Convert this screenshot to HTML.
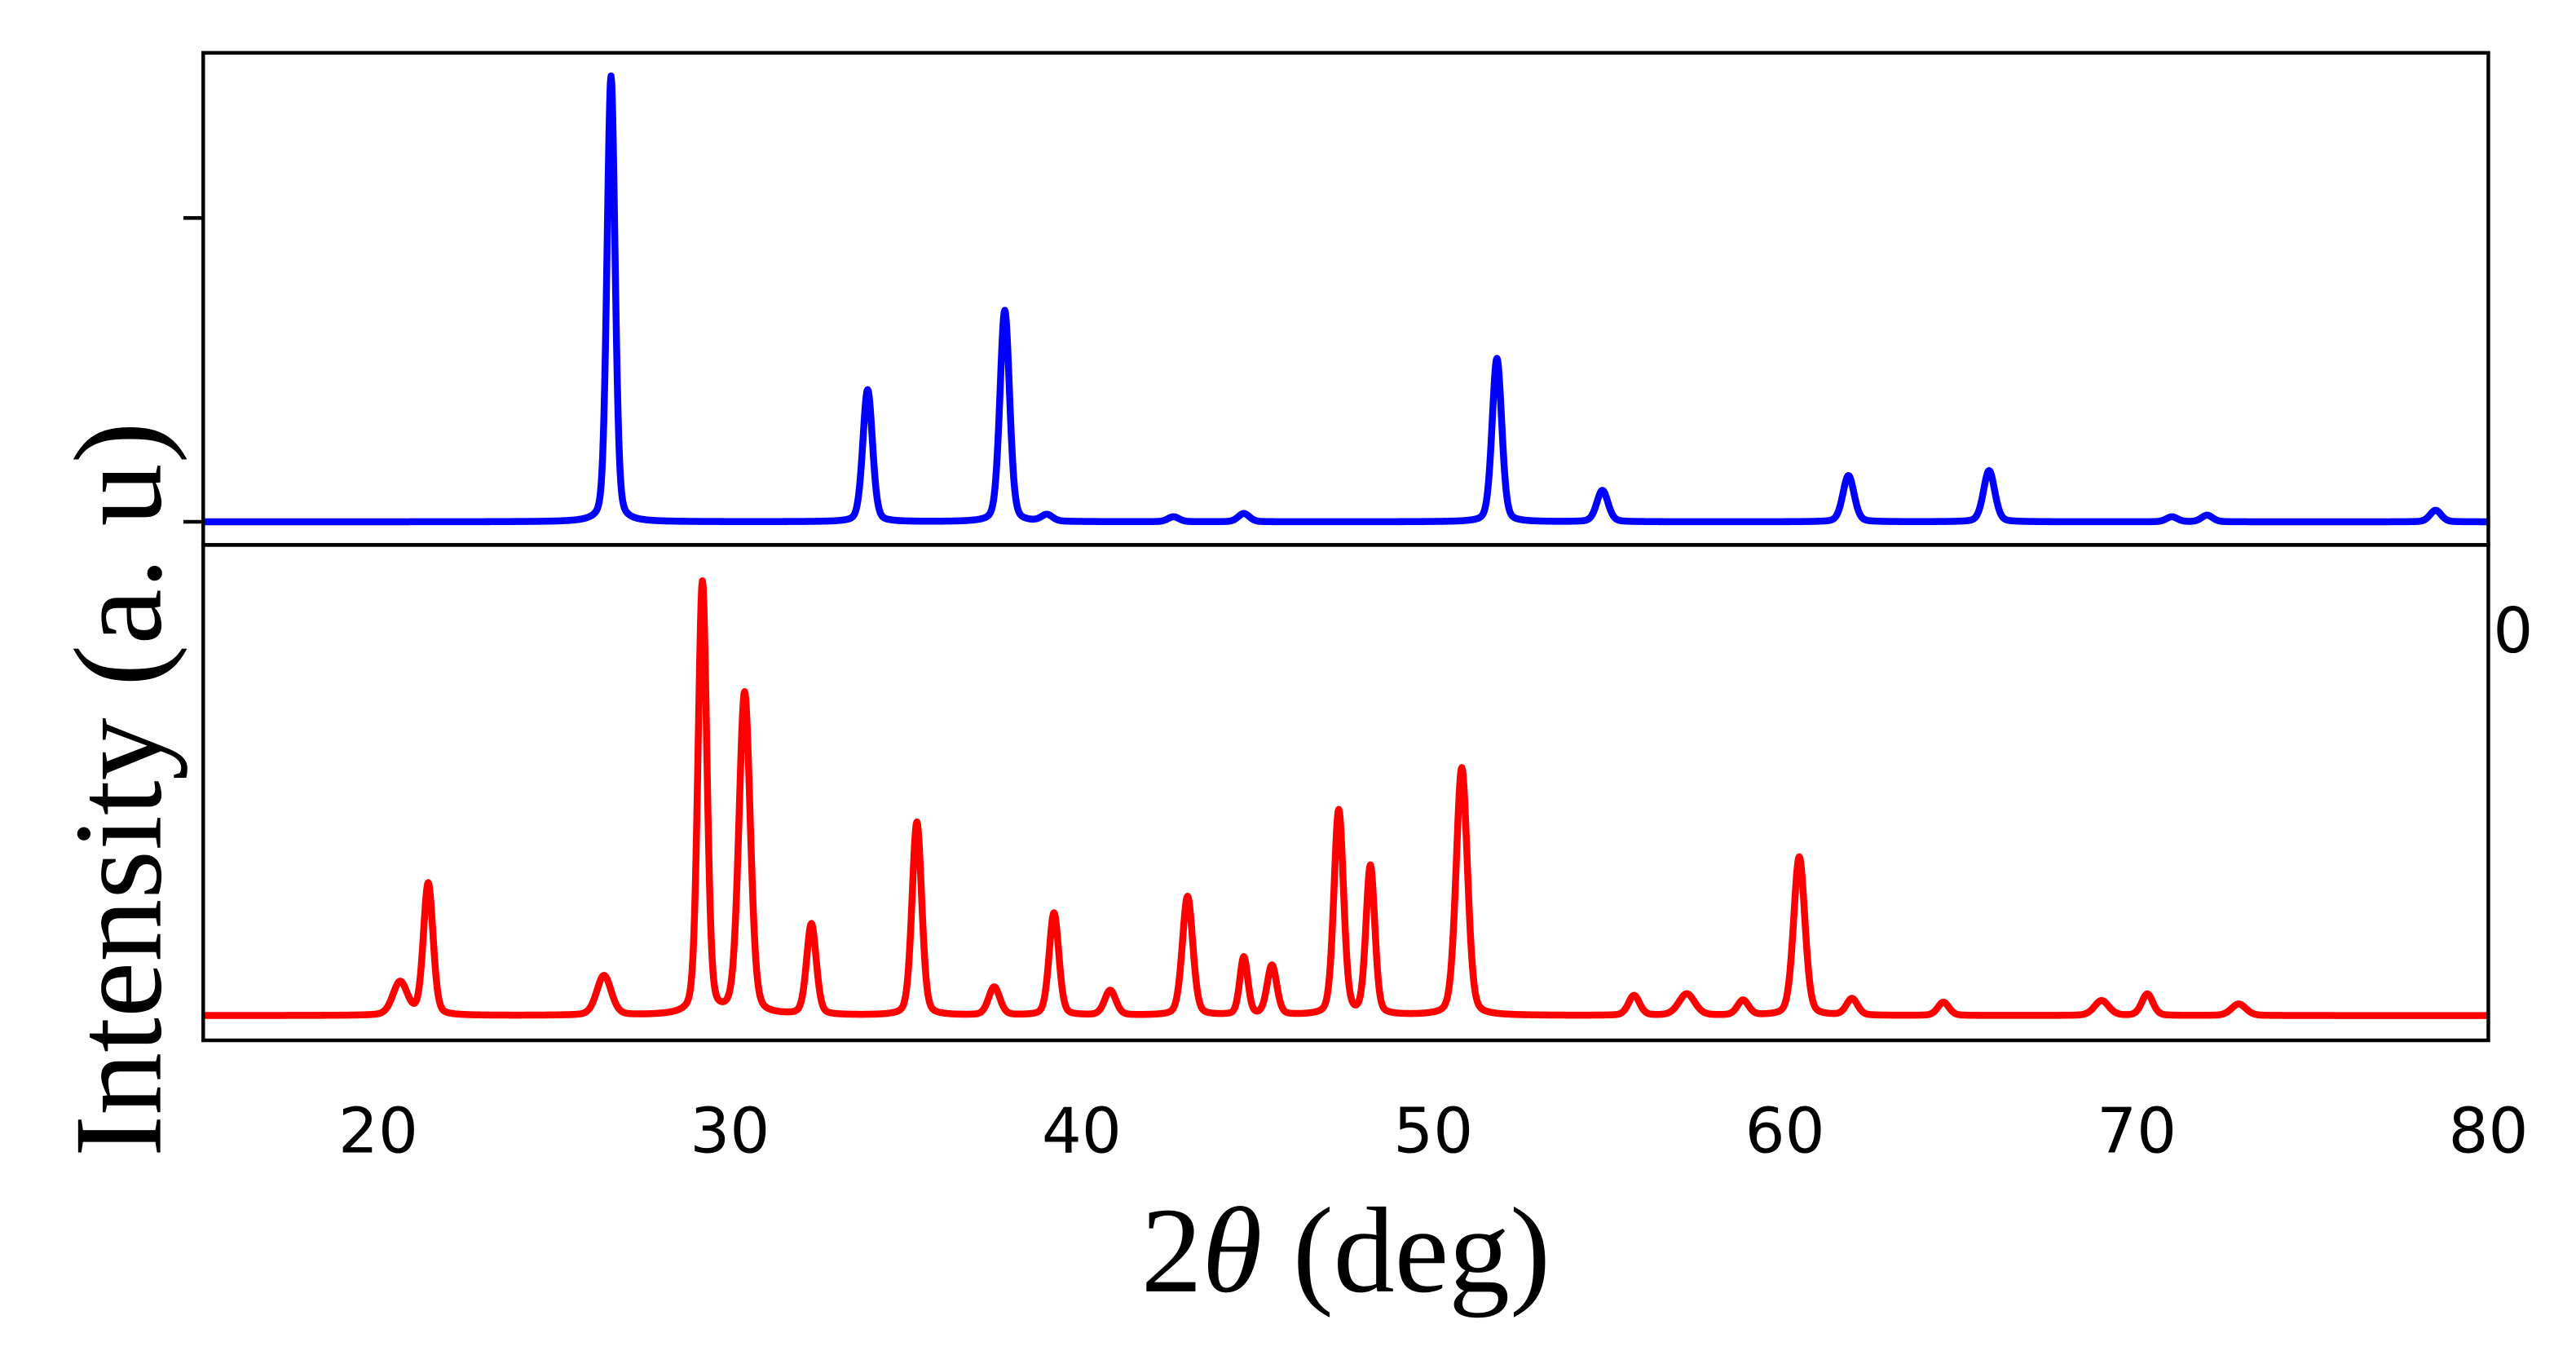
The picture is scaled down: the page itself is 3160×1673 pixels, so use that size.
<!DOCTYPE html>
<html><head><meta charset="utf-8"><style>html,body{margin:0;padding:0;background:#fff}svg{display:block}</style></head>
<body>
<svg id="s" width="3160" height="1673" viewBox="0 0 1560 826" xmlns="http://www.w3.org/2000/svg">
<rect width="1560" height="826" fill="#fff"/>
<path id="pb" fill="none" stroke="#0000ff" stroke-width="4.2" stroke-linejoin="round"/>
<path id="pr" fill="none" stroke="#ff0000" stroke-width="4.2" stroke-linejoin="round"/>
<rect x="123" y="32" width="1384" height="298" fill="none" stroke="#000" stroke-width="2.2"/>
<rect x="123" y="330" width="1384" height="300" fill="none" stroke="#000" stroke-width="2.2"/>
<line x1="111" y1="132" x2="123" y2="132" stroke="#000" stroke-width="2.2"/>
<line x1="111" y1="316" x2="123" y2="316" stroke="#000" stroke-width="2.2"/>
<g font-family="DejaVu Sans, sans-serif" font-size="38" fill="#000" text-anchor="middle">
<text x="229" y="698">20</text><text x="442" y="698">30</text><text x="655" y="698">40</text>
<text x="868" y="698">50</text><text x="1081" y="698">60</text><text x="1294" y="698">70</text>
<text x="1507" y="698">80</text>
<text x="1522" y="395">0</text>
</g>
<text x="815" y="782" font-family="Liberation Serif, serif" font-size="74" text-anchor="middle">2<tspan font-style="italic">θ</tspan> (deg)</text>
<text transform="translate(97,478) rotate(-90)" font-family="Liberation Serif, serif" font-size="76" text-anchor="middle">Intensity (a. u)</text>
</svg>
<script>
function X(t){return 123+(t-15)*21.292;}
function build(peaks,base,id){
 var d="";
 for(var t=15;t<=80.001;t+=0.02){
  var y=0;
  for(var i=0;i<peaks.length;i++){var p=peaks[i],w=(p[2]||0.14)*1.35,u=(t-p[0])/w;
   y+=p[1]*(0.75*Math.exp(-0.693*u*u)+0.25/(1+u*u));}
  d+=(d?"L":"M")+X(t).toFixed(2)+" "+(base-y).toFixed(2);
 }
 document.getElementById(id).setAttribute("d",d);
}
build([[26.6,270,0.1],[33.9,80,0.12],[37.8,128,0.12],[39.0,4],[42.6,3],[44.6,5],[51.8,99,0.12],[54.8,19],[61.8,28],[65.8,31],[71.0,3],[72.0,4],[78.5,7]],316,"pb");
build([[20.6,20,0.18],[21.4,80,0.12],[26.4,24,0.18],[29.2,262,0.11],[30.4,195,0.14],[32.3,55,0.12],[35.3,117,0.12],[37.5,17],[39.2,62,0.12],[40.8,15],[43.0,72,0.13],[44.6,35,0.1],[45.4,30,0.12],[47.3,124,0.12],[48.2,90,0.11],[50.8,150,0.14],[55.7,12],[57.2,13,0.2],[58.8,9],[60.4,96,0.14],[61.9,10],[64.5,8],[69.0,9,0.18],[70.3,13],[72.9,7,0.18]],615,"pr");
</script>
</body></html>
